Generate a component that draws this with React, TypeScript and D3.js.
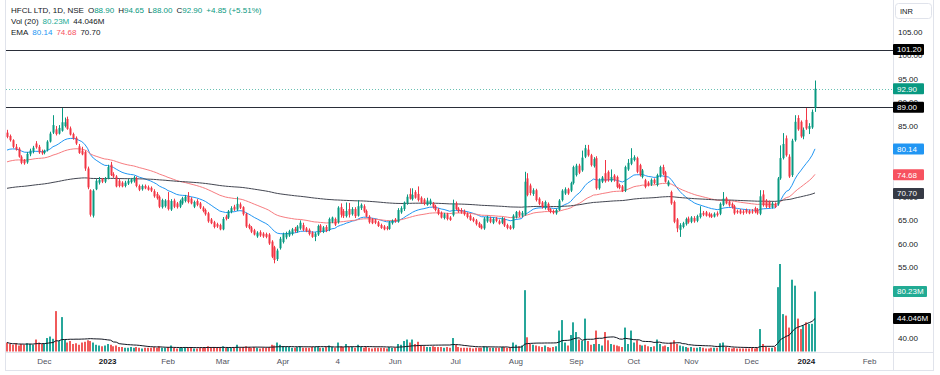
import * as d3 from "d3";
import { useEffect, useRef } from "react";

// HFCL daily candles (oldest first)
const opens = [
  83.6, 82.9, 82.0, 80.6, 80.2, 78.5, 77.8, 77.3, 79.0, 79.7,
  81.3, 80.6, 79.6, 79.3, 79.9, 81.7, 83.6, 84.3, 83.4, 84.0,
  85.0, 86.5, 84.5, 83.3, 82.5, 80.7, 79.8, 79.5, 76.0, 71.4,
  66.0, 71.6, 73.0, 73.8, 73.2, 73.9, 76.8, 74.8, 74.3, 73.4,
  73.0, 72.3, 72.8, 73.1, 73.3, 73.9, 72.3, 71.6, 72.3, 72.0,
  71.9, 71.2, 70.6, 70.0, 67.8, 68.0, 69.3, 67.3, 69.2, 68.6,
  67.9, 68.6, 69.1, 70.2, 69.6, 67.9, 69.1, 68.6, 67.7, 67.2,
  66.5, 65.2, 64.6, 64.2, 64.0, 63.1, 65.8, 65.6, 66.8, 67.9,
  67.3, 68.4, 67.8, 66.4, 64.0, 63.5, 62.9, 61.6, 62.5, 62.2,
  62.1, 62.0, 60.5, 59.3, 56.8, 59.1, 60.4, 61.4, 61.8, 62.1,
  63.2, 62.7, 63.3, 64.0, 63.3, 63.0, 62.4, 61.5, 62.0, 63.9,
  62.6, 63.6, 63.0, 64.7, 65.3, 64.6, 67.8, 67.0, 65.9, 67.4,
  66.3, 67.4, 66.0, 67.6, 68.0, 67.0, 65.8, 65.2, 65.0, 64.6,
  64.0, 63.7, 63.5, 63.2, 64.4, 65.2, 64.7, 66.7, 67.4, 68.6,
  70.6, 69.5, 71.0, 70.6, 69.8, 69.4, 68.3, 68.5, 68.6, 68.0,
  67.3, 66.6, 65.5, 66.3, 65.6, 66.1, 68.6, 67.5, 67.2, 67.0,
  66.4, 66.0, 65.4, 65.0, 64.4, 63.9, 63.3, 64.8, 65.4, 64.5,
  65.4, 64.8, 64.5, 65.3, 64.0, 63.7, 63.4, 65.7, 66.8, 66.0,
  66.2, 73.9, 72.4, 70.6, 71.4, 69.6, 68.8, 67.6, 68.5, 67.4,
  67.0, 66.5, 67.2, 69.3, 70.7, 71.6, 71.3, 72.9, 74.6, 76.6,
  75.6, 78.5, 80.0, 78.8, 76.5, 78.2, 71.8, 73.2, 75.0, 75.3,
  73.4, 74.5, 74.2, 72.5, 72.2, 71.3, 75.8, 77.0, 77.8, 78.2,
  76.7, 74.2, 73.5, 73.0, 72.6, 73.6, 72.5, 74.4, 76.3, 75.2,
  72.4, 71.0, 68.9, 65.2, 63.0, 63.6, 64.2, 65.4, 64.7, 65.5,
  64.9, 65.7, 66.6, 66.7, 66.4, 66.2, 65.8, 66.5, 66.4, 68.3,
  69.7, 69.0, 68.5, 68.0, 67.0, 67.1, 66.9, 67.2, 67.0, 66.9,
  67.6, 67.3, 66.4, 70.5, 69.2, 68.9, 67.8, 68.5, 68.4, 73.9,
  78.2, 82.4, 78.5, 74.6, 82.0, 86.7, 85.9, 82.8, 86.3, 84.4,
  84.7, 88.9,
];
const highs = [
  84.2, 83.2, 82.2, 81.2, 80.5, 78.8, 78.0, 79.5, 80.2, 80.8,
  81.8, 81.0, 80.0, 80.0, 82.0, 83.8, 87.3, 85.0, 85.2, 88.8,
  86.8, 87.0, 84.9, 83.6, 82.8, 81.2, 80.6, 79.8, 76.4, 71.6,
  71.6, 73.8, 74.2, 74.0, 74.2, 76.8, 77.4, 75.2, 74.6, 73.8,
  73.3, 73.4, 73.8, 74.0, 74.4, 74.3, 72.6, 72.6, 72.6, 72.4,
  72.2, 71.6, 71.0, 70.3, 69.6, 69.5, 71.0, 69.5, 69.6, 68.9,
  69.4, 70.0, 70.4, 71.0, 69.9, 69.2, 69.5, 68.9, 68.0, 67.5,
  66.8, 65.5, 64.9, 64.5, 64.3, 65.7, 66.2, 67.2, 68.0, 68.3,
  70.0, 68.8, 68.0, 66.6, 64.3, 63.8, 63.2, 62.7, 62.9, 62.5,
  62.4, 62.3, 60.8, 59.6, 59.0, 61.5, 62.4, 62.6, 63.0, 63.4,
  63.6, 64.0, 65.0, 64.5, 63.6, 63.3, 62.7, 62.5, 64.1, 64.2,
  63.8, 64.0, 65.6, 65.8, 65.6, 68.0, 68.6, 67.4, 68.8, 68.7,
  67.8, 67.8, 69.3, 68.6, 68.4, 67.3, 66.1, 65.5, 65.3, 64.9,
  64.3, 64.0, 63.8, 64.9, 65.2, 65.5, 67.6, 68.0, 69.0, 70.5,
  71.8, 71.8, 71.4, 72.2, 70.1, 69.7, 69.8, 69.6, 68.9, 68.3,
  67.6, 66.9, 66.6, 66.6, 65.9, 69.4, 69.0, 67.8, 67.6, 67.3,
  66.7, 66.3, 65.7, 65.3, 64.7, 64.2, 65.7, 66.0, 65.8, 65.6,
  65.7, 65.2, 65.7, 65.6, 64.3, 64.0, 66.3, 67.0, 67.1, 67.0,
  75.3, 75.0, 72.8, 71.8, 71.7, 69.9, 69.1, 69.2, 68.8, 67.6,
  67.3, 67.5, 69.5, 71.6, 72.0, 71.9, 73.2, 76.6, 77.0, 77.0,
  79.8, 81.0, 81.0, 79.1, 78.4, 78.6, 73.9, 74.4, 77.8, 75.6,
  75.8, 74.8, 74.5, 72.8, 72.5, 76.6, 78.0, 80.3, 78.8, 78.5,
  77.0, 75.9, 73.8, 73.3, 73.9, 73.9, 74.9, 76.6, 76.8, 75.5,
  73.5, 71.3, 69.2, 65.5, 64.4, 64.7, 65.6, 65.8, 65.9, 65.9,
  66.2, 68.0, 67.0, 67.0, 66.7, 66.5, 66.7, 66.9, 68.8, 71.0,
  70.0, 69.3, 68.8, 68.3, 67.3, 67.4, 67.3, 67.5, 67.3, 67.4,
  67.9, 67.6, 71.4, 71.4, 69.5, 69.2, 68.9, 68.8, 74.2, 80.9,
  83.5, 83.0, 79.0, 82.3, 87.3, 87.3, 86.2, 84.7, 88.8, 85.6,
  88.5, 94.65,
];
const lows = [
  82.4, 81.7, 80.3, 79.8, 78.3, 76.9, 76.8, 77.0, 78.6, 79.2,
  80.2, 79.1, 78.9, 79.0, 79.6, 81.5, 83.3, 83.0, 83.2, 83.8,
  84.7, 84.2, 83.0, 82.1, 81.0, 79.1, 78.8, 75.5, 71.6, 65.8,
  65.6, 71.4, 72.6, 72.9, 72.9, 73.7, 74.4, 74.0, 72.0, 72.0,
  72.0, 72.0, 72.5, 72.8, 73.0, 72.0, 71.2, 71.3, 71.6, 71.3,
  71.0, 69.8, 69.4, 67.6, 67.5, 67.7, 67.1, 67.0, 67.6, 67.5,
  67.6, 68.3, 68.8, 68.6, 68.4, 67.6, 68.0, 67.4, 66.7, 66.0,
  64.5, 64.2, 63.3, 63.4, 62.9, 62.9, 65.0, 65.3, 66.5, 67.0,
  67.0, 67.4, 66.0, 63.4, 63.1, 62.3, 61.8, 61.3, 61.5, 61.3,
  61.2, 59.8, 57.0, 55.9, 56.4, 58.8, 60.1, 61.0, 61.5, 61.8,
  62.4, 62.4, 63.0, 62.7, 62.5, 61.8, 61.3, 60.6, 61.7, 62.4,
  62.3, 62.5, 62.7, 64.4, 63.8, 64.3, 65.6, 65.5, 65.6, 65.6,
  66.0, 65.5, 65.8, 67.2, 66.6, 65.6, 64.3, 64.2, 64.2, 63.6,
  63.2, 62.9, 62.9, 63.0, 64.1, 64.5, 64.5, 66.4, 67.0, 68.3,
  69.4, 69.2, 69.6, 69.0, 68.5, 68.2, 68.1, 68.2, 67.5, 66.9,
  66.1, 65.4, 65.2, 65.0, 64.9, 65.8, 67.2, 66.6, 66.4, 66.0,
  65.4, 64.9, 64.6, 63.9, 63.4, 63.1, 63.0, 64.5, 64.4, 64.2,
  64.6, 64.1, 64.2, 63.6, 63.1, 63.0, 63.1, 65.4, 65.7, 65.7,
  66.0, 70.1, 70.3, 70.2, 69.0, 68.2, 67.5, 67.3, 67.0, 66.5,
  66.3, 66.2, 67.0, 69.0, 70.4, 70.4, 71.0, 72.6, 74.3, 74.8,
  75.3, 78.2, 78.5, 76.4, 76.2, 71.5, 71.5, 72.9, 73.0, 73.2,
  73.1, 73.2, 71.8, 71.6, 71.0, 71.0, 75.5, 76.7, 77.5, 75.0,
  74.3, 73.9, 71.8, 72.2, 72.3, 72.7, 72.2, 74.1, 74.6, 73.0,
  72.2, 68.3, 64.4, 62.5, 61.5, 63.3, 63.9, 64.3, 64.4, 64.5,
  64.6, 65.4, 65.9, 65.8, 65.6, 65.5, 65.6, 65.8, 66.1, 68.0,
  68.4, 67.9, 67.5, 66.2, 66.4, 66.3, 66.2, 66.4, 66.3, 66.4,
  66.5, 66.2, 66.1, 67.9, 67.6, 67.6, 67.5, 67.6, 68.1, 73.6,
  77.9, 78.5, 74.0, 74.2, 81.7, 84.0, 82.5, 82.2, 84.2, 83.3,
  84.4, 88.0,
];
const closes = [
  82.7, 82.0, 80.6, 80.0, 78.5, 77.2, 77.1, 79.1, 79.8, 80.4,
  80.5, 79.4, 79.2, 79.8, 81.7, 83.4, 85.2, 83.3, 84.6, 85.8,
  85.8, 84.4, 83.2, 82.4, 81.3, 79.3, 79.0, 76.0, 72.0, 66.2,
  71.3, 73.4, 73.6, 73.2, 73.8, 76.3, 74.6, 74.3, 72.2, 72.3,
  72.2, 73.0, 73.4, 73.7, 74.1, 72.3, 71.5, 72.3, 71.8, 71.5,
  71.3, 70.1, 69.7, 67.9, 69.3, 69.2, 67.4, 69.1, 67.9, 67.8,
  69.1, 69.7, 70.0, 68.9, 68.6, 68.9, 68.3, 67.7, 67.0, 66.3,
  64.8, 64.4, 63.6, 63.7, 63.1, 65.3, 65.3, 66.9, 67.6, 67.3,
  68.5, 67.7, 66.3, 63.7, 63.4, 62.6, 62.0, 62.4, 61.8, 61.6,
  61.5, 60.1, 57.3, 56.6, 58.6, 61.1, 62.1, 62.3, 62.7, 63.1,
  62.7, 63.7, 64.5, 63.0, 62.7, 62.1, 61.5, 62.2, 63.8, 62.7,
  63.5, 62.8, 65.3, 65.6, 64.1, 67.7, 66.2, 65.9, 67.0, 66.2,
  67.4, 65.9, 68.0, 68.3, 66.9, 65.8, 64.6, 64.4, 64.5, 63.8,
  63.4, 63.1, 63.2, 64.6, 64.9, 64.8, 67.2, 67.6, 68.8, 70.0,
  69.6, 70.4, 69.8, 69.3, 68.8, 68.5, 69.2, 69.2, 67.8, 67.2,
  66.4, 65.6, 66.3, 65.3, 65.1, 68.6, 67.4, 66.9, 66.7, 66.3,
  65.7, 65.1, 64.9, 64.2, 63.6, 63.3, 65.4, 65.7, 64.7, 65.3,
  64.9, 64.3, 65.4, 63.9, 63.4, 63.2, 66.0, 66.8, 66.0, 66.6,
  73.2, 70.4, 70.8, 71.4, 69.3, 68.5, 67.8, 68.9, 67.2, 66.8,
  66.6, 67.2, 69.2, 71.3, 71.6, 70.7, 72.9, 76.3, 76.6, 75.1,
  78.3, 80.3, 78.8, 76.7, 78.0, 71.8, 73.5, 74.1, 73.3, 73.5,
  74.2, 73.5, 72.1, 71.9, 71.2, 76.3, 77.2, 78.2, 78.4, 75.3,
  74.6, 75.6, 72.1, 72.5, 73.6, 72.9, 74.6, 76.3, 74.9, 73.2,
  73.2, 68.6, 64.7, 63.3, 64.0, 64.4, 65.3, 64.6, 65.6, 64.8,
  65.9, 66.5, 66.2, 66.0, 65.9, 65.7, 66.4, 66.1, 68.5, 69.6,
  68.6, 68.2, 67.8, 66.5, 66.7, 66.5, 66.6, 66.7, 66.5, 66.8,
  66.8, 66.5, 70.1, 68.2, 67.9, 67.8, 68.6, 67.8, 73.9, 78.2,
  81.2, 78.8, 74.3, 81.9, 85.9, 84.3, 82.8, 84.2, 84.5, 85.0,
  88.0, 92.9,
];
// volume in millions
const volumes = [
  12, 10, 9, 11, 8, 10, 9, 11, 10, 9,
  16, 12, 10, 11, 18, 20, 17, 54, 14, 46,
  16, 12, 14, 10, 11, 9, 12, 13, 15, 14,
  12, 9, 8, 7, 8, 10, 9, 7, 8, 6,
  6, 5, 5, 6, 5, 6, 5, 4, 5, 5,
  5, 6, 5, 7, 5, 5, 6, 8, 5, 4,
  5, 5, 6, 5, 5, 4, 4, 5, 5, 6,
  7, 6, 6, 5, 6, 7, 5, 6, 5, 5,
  9, 5, 6, 7, 6, 5, 6, 5, 4, 5,
  5, 6, 9, 8, 12, 9, 7, 6, 6, 5,
  5, 6, 7, 5, 5, 5, 6, 6, 7, 5,
  5, 6, 8, 6, 5, 12, 7, 6, 10, 6,
  6, 5, 9, 6, 5, 6, 5, 4, 5, 5,
  5, 5, 4, 6, 5, 5, 10, 9, 14, 16,
  12, 16, 10, 13, 8, 7, 6, 6, 7, 6,
  6, 6, 5, 6, 5, 18, 9, 6, 5, 5,
  5, 5, 4, 5, 5, 5, 7, 6, 5, 5,
  5, 5, 6, 6, 5, 5, 12, 9, 7, 8,
  82, 19, 10, 9, 8, 7, 6, 8, 6, 5,
  6, 7, 28, 42, 12, 8, 22, 39, 26, 16,
  14, 44, 14, 9, 10, 28, 10, 8, 26, 15,
  10, 9, 8, 7, 6, 32, 10, 28, 12, 15,
  9, 8, 9, 7, 6, 7, 16, 10, 7, 8,
  6, 12, 15, 10, 8, 7, 6, 5, 6, 5,
  5, 6, 5, 4, 4, 5, 5, 5, 11, 12,
  6, 5, 4, 5, 4, 4, 4, 4, 4, 5,
  4, 5, 30, 10, 6, 5, 5, 6, 86, 117,
  50, 48, 32, 96, 88, 44, 30, 35, 39, 37,
  37, 80.23,
];

const tickLabels = ["Dec", "2023", "Feb", "Mar", "Apr", "4", "Jun", "Jul", "Aug", "Sep", "Oct", "Nov", "Dec", "2024", "Feb"];
const tickIndex = [13, 35, 56, 75, 96, 115, 135, 156, 177, 198, 218, 238, 259, 278, 300];
const yearTicks = ["2023", "2024"];
const priceTicks = [105, 100, 95, 90, 85, 80, 75, 70, 65, 60, 55, 50, 45, 40];
const levelLines = [101.2, 89.0];
const emaPeriods = [20, 50, 200];
const emaStart = [79.9, 77.4, 71.8];
const emaLast = [80.14, 74.68, 70.7];
const emaColors = ["#2196f3", "#f77c80", "#434651"];
const emaBadge = ["#2196f3", "#f7525f", "#363a45"];
const volLast = [80.23, 44.046];
const lastChange = [4.85, 5.51];

const UP = "#089981";
const DOWN = "#f23645";
const FONT = "'Liberation Sans', Arial, sans-serif";

function ema(vals: number[], period: number, seed: number) {
  const k = 2 / (period + 1);
  let e = seed;
  return vals.map((v, i) => {
    if (i > 0) e = v * k + e * (1 - k);
    return e;
  });
}

export default function App() {
  const ref = useRef<SVGSVGElement>(null);

  useEffect(() => {
    const svg = d3.select(ref.current);
    svg.selectAll("*").remove();

    const n = closes.length;
    const x = d3.scaleLinear().domain([0, n - 1]).range([7, 815]);
    const y = d3.scaleLinear().domain([40, 105]).range([338.3, 31.7]);
    const yv = d3.scaleLinear().domain([0, 117]).range([351.5, 264]);
    const axisX = 893;

    svg.append("rect").attr("width", 940).attr("height", 375).attr("fill", "#fff");

    // frame
    const border = "#e0e3eb";
    svg.append("line").attr("x1", 5.5).attr("x2", 5.5).attr("y1", 0).attr("y2", 370).attr("stroke", border);
    svg.append("line").attr("x1", 933.5).attr("x2", 933.5).attr("y1", 0).attr("y2", 370).attr("stroke", border);
    svg.append("line").attr("x1", 5).attr("x2", 934).attr("y1", 370.5).attr("y2", 370.5).attr("stroke", border);
    svg.append("line").attr("x1", axisX + 0.5).attr("x2", axisX + 0.5).attr("y1", 0).attr("y2", 370).attr("stroke", border);
    svg.append("line").attr("x1", 5).attr("x2", 934).attr("y1", 352.5).attr("y2", 352.5).attr("stroke", border);

    const plot = svg.append("g");

    // volume
    const vol = plot.append("g");
    volumes.forEach((v, i) => {
      const px = Math.round(x(i));
      vol.append("rect")
        .attr("x", px - 1).attr("width", 2)
        .attr("y", yv(v)).attr("height", yv(0) - yv(v))
        .attr("fill", closes[i] >= opens[i] ? "#26a69a" : "#f05a5a");
    });
    const volMa = volumes.map((_, i) => d3.mean(volumes.slice(Math.max(0, i - 19), i + 1)) as number);
    plot.append("path")
      .attr("d", d3.line<number>().x((_, i) => x(i)).y((d) => yv(d))(volMa))
      .attr("fill", "none").attr("stroke", "#131722").attr("stroke-width", 1);

    // level lines
    levelLines.forEach((p) => {
      plot.append("line").attr("x1", 6).attr("x2", axisX).attr("y1", Math.round(y(p)) + 0.5).attr("y2", Math.round(y(p)) + 0.5)
        .attr("stroke", "#2a2e39").attr("stroke-width", 1);
    });
    const last = closes[n - 1];
    plot.append("line").attr("x1", 6).attr("x2", axisX).attr("y1", Math.round(y(last)) + 0.5).attr("y2", Math.round(y(last)) + 0.5)
      .attr("stroke", UP).attr("stroke-width", 1).attr("stroke-dasharray", "1,2").attr("opacity", 0.6);

    // EMAs
    emaPeriods.forEach((p, k) => {
      const vals = ema(closes, p, emaStart[k]);
      plot.append("path")
        .attr("d", d3.line<number>().x((_, i) => x(i)).y((d) => y(d))(vals))
        .attr("fill", "none").attr("stroke", emaColors[k]).attr("stroke-width", 1);
    });

    // candles
    const cg = plot.append("g");
    closes.forEach((c, i) => {
      const o = opens[i];
      const col = c >= o ? UP : DOWN;
      const px = Math.round(x(i));
      cg.append("line").attr("x1", px + 0.5).attr("x2", px + 0.5).attr("y1", y(highs[i])).attr("y2", y(lows[i]))
        .attr("stroke", col).attr("stroke-width", 1);
      const top = y(Math.max(o, c));
      const h = Math.max(1, Math.abs(y(o) - y(c)));
      cg.append("rect").attr("x", px - 0.5).attr("width", 2).attr("y", top).attr("height", h).attr("fill", col);
    });

    // badges sit on the price scale; scale labels hidden under a badge are skipped
    const badgeY = [
      ...levelLines.map((p) => y(p)),
      y(last),
      ...emaLast.map((v) => y(v)),
      ...volLast.map((v) => yv(v)),
    ];

    const ax = svg.append("g").attr("font-family", FONT).attr("font-size", 8).attr("fill", "#131722");
    priceTicks.forEach((p) => {
      const ty = y(p);
      if (badgeY.some((b) => Math.abs(b - ty) < 3)) return;
      ax.append("text").attr("x", axisX + 5).attr("y", ty).attr("dy", "0.35em").text(p.toFixed(2));
    });

    const badge = (val: number, label: string, color: string, w: number) => {
      const g = svg.append("g");
      g.append("rect").attr("x", axisX).attr("y", val - 5.5).attr("width", w).attr("height", 11).attr("fill", color).attr("rx", 1);
      g.append("text").attr("x", axisX + 4).attr("y", val).attr("dy", "0.35em")
        .attr("font-family", FONT).attr("font-size", 8).attr("fill", "#fff").text(label);
    };
    levelLines.forEach((p) => badge(y(p), p.toFixed(2), "#000", 31));
    badge(y(last), last.toFixed(2), UP, 31);
    emaLast.forEach((v, k) => badge(y(v), v.toFixed(2), emaBadge[k], 31));
    badge(yv(volLast[0]), volLast[0].toFixed(2) + "M", "#22ab94", 34);
    badge(yv(volLast[1]), volLast[1].toFixed(3) + "M", "#000", 38);

    // currency box
    svg.append("rect").attr("x", 895.5).attr("y", 3.5).attr("width", 36).attr("height", 15).attr("rx", 3)
      .attr("fill", "#fff").attr("stroke", border);
    svg.append("text").attr("x", 900).attr("y", 11).attr("dy", "0.35em").attr("font-family", FONT)
      .attr("font-size", 7.5).attr("fill", "#131722").text("INR");

    // time axis
    const tx = svg.append("g").attr("font-family", FONT).attr("font-size", 8);
    tickLabels.forEach((t, k) => {
      const isYear = yearTicks.includes(t);
      tx.append("text").attr("x", x(tickIndex[k])).attr("y", 361.5).attr("dy", "0.35em")
        .attr("text-anchor", "middle")
        .attr("fill", isYear ? "#131722" : "#50535e")
        .attr("font-weight", isYear ? "bold" : "normal").text(t);
    });

    // legend
    const lg = svg.append("g").attr("font-family", FONT).attr("font-size", 8);
    const dark = "#131722";
    const l1 = lg.append("text").attr("x", 11).attr("y", 13).attr("fill", dark);
    l1.append("tspan").text("HFCL LTD, 1D, NSE");
    const ohlc = [["O", opens[n - 1]], ["H", highs[n - 1]], ["L", lows[n - 1]], ["C", last]] as [string, number][];
    ohlc.forEach(([k, v]) => {
      l1.append("tspan").attr("dx", 4).attr("fill", dark).text(k);
      l1.append("tspan").attr("fill", UP).text(v.toFixed(2));
    });
    l1.append("tspan").attr("dx", 4).attr("fill", UP)
      .text(`+${lastChange[0].toFixed(2)} (+${lastChange[1].toFixed(2)}%)`);

    const l2 = lg.append("text").attr("x", 11).attr("y", 24).attr("fill", dark);
    l2.append("tspan").text("Vol (20)");
    l2.append("tspan").attr("dx", 4).attr("fill", "#22ab94").text(volLast[0].toFixed(2) + "M");
    l2.append("tspan").attr("dx", 4).attr("fill", dark).text(volLast[1].toFixed(3) + "M");

    const l3 = lg.append("text").attr("x", 11).attr("y", 35).attr("fill", dark);
    l3.append("tspan").text("EMA");
    emaLast.forEach((v, k) => {
      l3.append("tspan").attr("dx", 4).attr("fill", k === 2 ? dark : emaBadge[k]).text(v.toFixed(2));
    });
  }, []);

  return (
    <svg ref={ref} width={940} height={375} style={{ position: "absolute", left: 0, top: 0 }} />
  );
}
